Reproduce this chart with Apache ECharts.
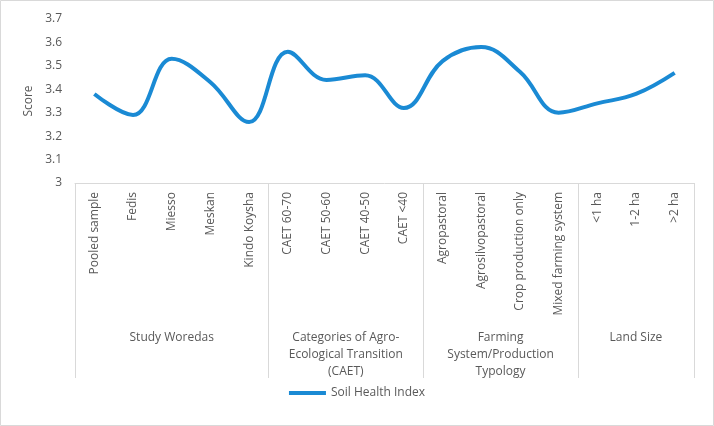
<!DOCTYPE html>
<html><head><meta charset="utf-8">
<script src="https://cdn.jsdelivr.net/npm/echarts@6/dist/echarts.min.js"></script>
<style>html,body{margin:0;padding:0;background:#fff}#c{width:714px;height:426px}</style>
</head><body><div id="c"></div>
<script>
const categories = ["Pooled sample","Fedis","Miesso","Meskan","Kindo Koysha","CAET 60-70","CAET 50-60","CAET 40-50","CAET <40","Agropastoral","Agrosilvopastoral","Crop production only","Mixed farming system","<1 ha","1-2 ha",">2 ha"];
const soilHealthIndex = [3.38,3.29,3.53,3.43,3.26,3.56,3.44,3.46,3.32,3.52,3.58,3.475,3.30,3.34,3.38,3.47];
const groupNames = ["Study Woredas","Categories of Agro-\nEcological Transition\n(CAET)","Farming\nSystem/Production\nTypology","Land Size"];
const groupSizes = [5,4,4,3];
const yTicks = [3,3.1,3.2,3.3,3.4,3.5,3.6,3.7];

const bounds=[0]; groupSizes.forEach(s=>bounds.push(bounds[bounds.length-1]+s));
const centers = groupSizes.map((s,i)=>bounds[i]+s/2);
const font = "Open Sans";
const txt = "#595959";
const chart = echarts.init(document.getElementById('c'));
chart.setOption({
  animation:false,
  textStyle:{fontFamily:font},
  graphic:[{type:'rect',shape:{x:0.5,y:0.5,width:713,height:425},style:{fill:'none',stroke:'#d9d9d9',lineWidth:1},silent:true}],
  grid:{left:75,right:20,top:19,bottom:243},
  legend:{bottom:22,left:'center',icon:'rect',itemWidth:37,itemHeight:4,itemGap:4,
    textStyle:{color:txt,fontSize:12,fontFamily:font},data:['Soil Health Index']},
  xAxis:[{type:'category',data:categories,boundaryGap:true,
      axisLine:{show:true,lineStyle:{color:'#d9d9d9'}},axisTick:{show:false},
      axisLabel:{rotate:90,margin:9,color:txt,fontSize:12,fontFamily:font,interval:0}},
    {type:'value',position:'bottom',min:0,max:16,
      axisLine:{show:false},splitLine:{show:false},
      axisTick:{show:true,length:195,customValues:bounds,lineStyle:{color:'#d9d9d9'}},
      axisLabel:{show:true,customValues:centers,margin:146,color:txt,fontSize:12,fontFamily:font,lineHeight:17,
        formatter:v=>{const i=centers.indexOf(v);return i>=0?groupNames[i]:'';}}}],
  yAxis:{type:'value',min:yTicks[0],max:yTicks[yTicks.length-1],interval:0.1,
    name:'Score',nameLocation:'middle',nameGap:40,nameTextStyle:{color:txt,fontSize:12,fontFamily:font},
    axisLine:{show:false},axisTick:{show:false},splitLine:{show:false},
    axisLabel:{color:txt,fontSize:12,margin:13,fontFamily:font,formatter:v=>String(Math.round(v*10)/10)}},
  series:[{name:'Soil Health Index',type:'line',xAxisIndex:0,data:soilHealthIndex,smooth:0.4,
    showSymbol:false,symbol:'none',lineStyle:{color:'#1a8ad4',width:4},itemStyle:{color:'#1a8ad4'}}]
});
</script></body></html>
